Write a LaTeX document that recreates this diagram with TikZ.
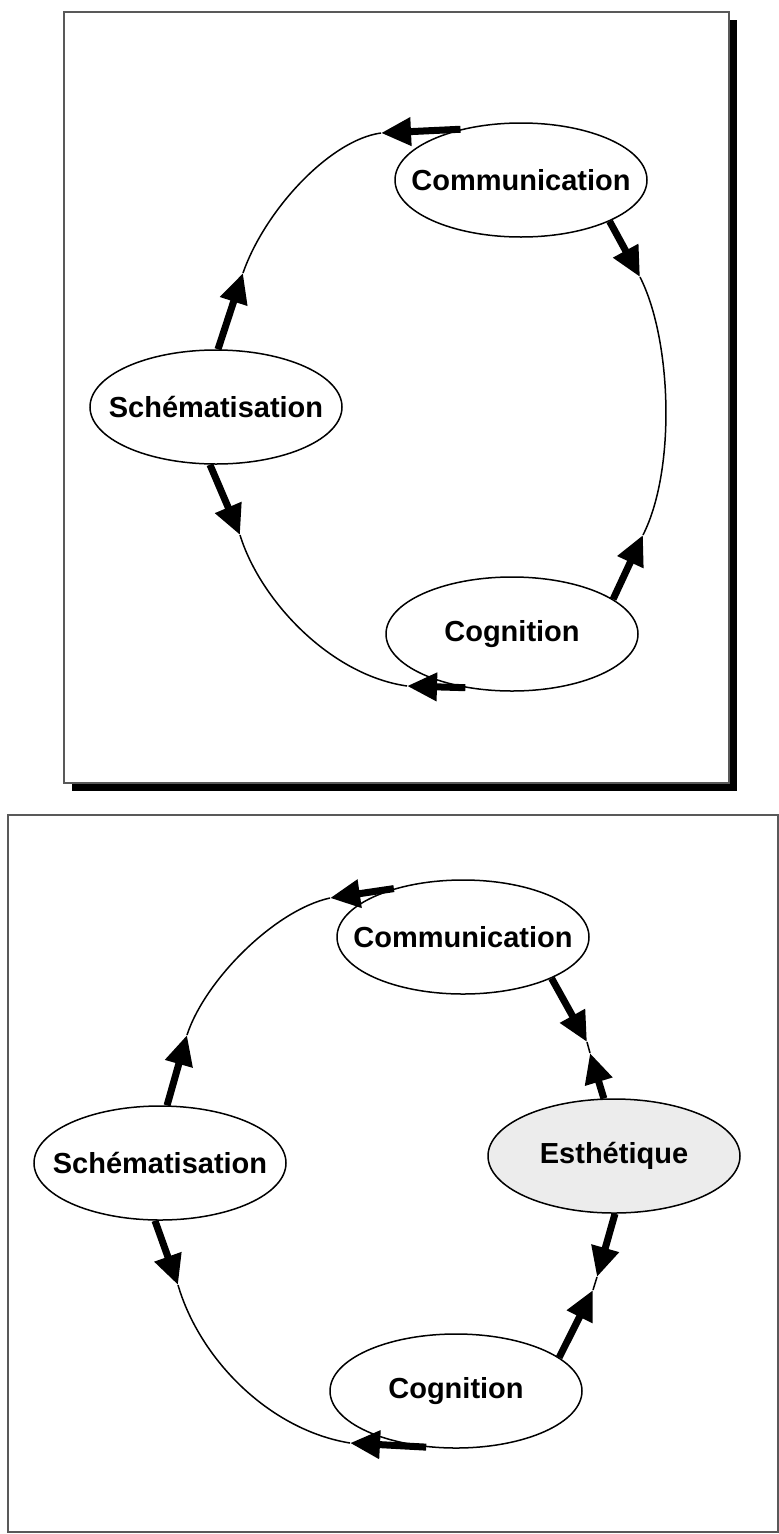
\documentclass[tikz,border=0pt]{standalone}
\usepackage{fontspec}
\setmainfont{Liberation Sans}
\usetikzlibrary{shapes.geometric,arrows.meta}
\definecolor{framegray}{gray}{0.35}
\definecolor{estfill}{gray}{0.925}
\begin{document}
\begin{tikzpicture}[x=1pt,y=-1pt,
  bubble/.style={draw=black, line width=1.5pt, ellipse, minimum width=252pt, minimum height=114pt, inner sep=0pt},
  lbl/.style={font=\fontsize{29}{32}\selectfont\bfseries, inner sep=0pt},
  push/.style={line width=7pt, -{Triangle[length=30pt,width=27pt]}},
  link/.style={line width=1.5pt},
  frame/.style={draw=framegray, line width=2pt}]
\useasboundingbox (0,0) rectangle (779,1534);
\fill[white] (0,0) rectangle (779,1534);

% ---------- top panel ----------
\fill[black] (72,783) rectangle (737,791);
\fill[black] (729,20) rectangle (737,791);
\draw[frame] (64,12) rectangle (729,783);

\node[bubble, label={[lbl]center:Communication}] (comm) at (521,180) {};
\node[bubble, label={[lbl]center:Schématisation}] (schem) at (216,407) {};
\node[bubble, label={[lbl]center:Cognition}] (cogn) at (512,634) {};

\coordinate (a1) at (381,133);
\coordinate (a2) at (640,277);
\coordinate (a3) at (243,273);
\coordinate (a4) at (240,535);
\coordinate (a5) at (643,535);
\coordinate (a6) at (407,686);

\draw[link] (a1) .. controls (330,140) and (265,210) .. (a3);
\draw[link] (a4) .. controls (260,600) and (330,675) .. (a6);
\draw[link] (a2) .. controls (672,340) and (676,470) .. (a5);

\draw[push] (comm.140) -- (a1);
\draw[push] (comm.335) -- (a2);
\draw[push] (schem.88) -- (a3);
\draw[push] (schem.264) -- (a4);
\draw[push] (cogn.19) -- (a5);
\draw[push] (cogn.229) -- (a6);

% ---------- bottom panel ----------
\draw[frame] (8,815) rectangle (778,1532);

\node[bubble, label={[lbl]center:Communication}] (comm2) at (463,937) {};
\node[bubble, label={[lbl]center:Schématisation}] (schem2) at (160,1163) {};
\node[bubble, fill=estfill, label={[lbl]center:Esthétique}] (est) at (614,1156) {};
\node[bubble, label={[lbl]center:Cognition}] (cogn2) at (456,1391) {};

\coordinate (b1) at (330,898);
\coordinate (b2) at (587,1042);
\coordinate (b3) at (187,1035);
\coordinate (b4) at (178,1285);
\coordinate (b5) at (590,1053);
\coordinate (b6) at (597,1277);
\coordinate (b7) at (593,1290);
\coordinate (b8) at (350,1443);

\draw[link] (b1) .. controls (275,910) and (205,980) .. (b3);
\draw[link] (b4) .. controls (200,1360) and (270,1430) .. (b8);
\draw[link] (b2) -- (b5);
\draw[link] (b6) -- (b7);

\draw[push] (comm2.145) -- (b1);
\draw[push] (comm2.335) -- (b2);
\draw[push] (schem2.83) -- (b3);
\draw[push] (schem2.265) -- (b4);
\draw[push] (est.100) -- (b5);
\draw[push] (est.271) -- (b6);
\draw[push] (cogn2.18) -- (b7);
\draw[push] (cogn2.242) -- (b8);
\end{tikzpicture}
\end{document}
